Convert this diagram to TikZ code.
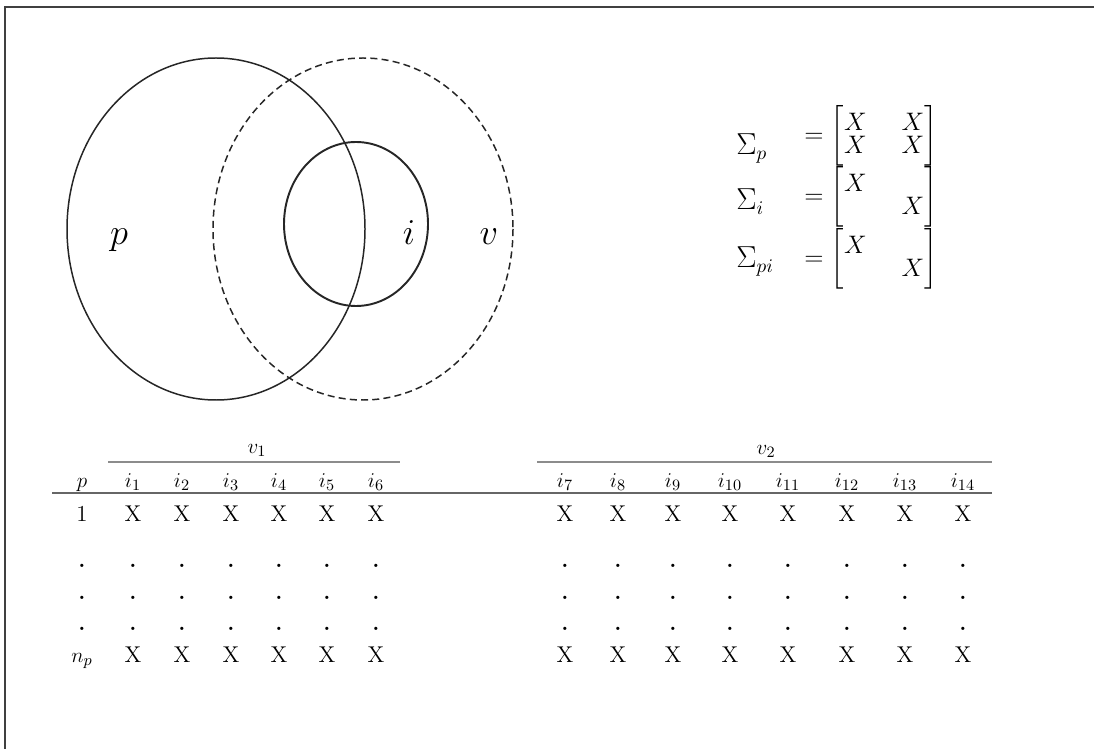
\documentclass[tikz,border=0pt]{standalone}
\usepackage{amsmath}
\usetikzlibrary{positioning}
\setlength{\arraycolsep}{10pt}
\tikzset{
  frameline/.style={line width=1.1pt, black!75},
  setline/.style  ={line width=0.85pt, black!85},
  setdash/.style  ={setline, dash pattern=on 4pt off 2.4pt},
  setinner/.style ={line width=1.1pt, black!85},
  setlabel/.style ={anchor=base, inner sep=0pt, font=\fontsize{22}{26}\selectfont},
  covsym/.style   ={anchor=base west, inner sep=0pt, font=\fontsize{16}{19}\selectfont},
  covmat/.style   ={anchor=west, inner sep=0pt, font=\fontsize{14}{16}\selectfont},
  cell/.style     ={anchor=base, inner sep=0pt, font=\fontsize{13}{15}\selectfont},
  grouprule/.style={line width=1.3pt, black!45},
  headrule/.style ={line width=1.6pt, black!60},
}

\begin{document}
\begin{tikzpicture}[x=0.02cm, y=-0.02cm]
  \useasboundingbox (0,0) rectangle (1094,749);
  \draw[frameline] (5,749) -- (5,7) -- (1094,7);

  % sets
  \draw[setline]  (216,229) ellipse [x radius=149, y radius=171];
  \draw[setdash]  (363,229) ellipse [x radius=150, y radius=171];
  \draw[setinner] (356,224) ellipse [x radius=72, y radius=82];
  \node[setlabel] (lp) at (119,245) {$p$};
  \node[setlabel] (li) at (409,245) {$i$};
  \node[setlabel] (lv) at (489,245) {$v$};

  % covariance structures
  \node[covsym] (sp)  at (736,155) {$\Sigma_p$};
  \node[covsym] (si)  at (736,210) {$\Sigma_i$};
  \node[covsym] (spi) at (736,268) {$\Sigma_{pi}$};
  \node[covmat] (mp)  at (804,136) {$=\begin{bmatrix} X & X\\[-3pt] X & X\end{bmatrix}$};
  \node[covmat] (mi)  at (804,197) {$=\begin{bmatrix} X & \\[-3pt] & X\end{bmatrix}$};
  \node[covmat] (mpi) at (804,259) {$=\begin{bmatrix} X & \\[-3pt] & X\end{bmatrix}$};

  % data table
  \node[cell] (v1) at (257,453) {$v_1$};
  \node[cell] (v2) at (766,454) {$v_2$};
  \coordinate (g1a) at (108,462); \coordinate (g1b) at (400,462);
  \coordinate (g2a) at (537,462); \coordinate (g2b) at (992,462);
  \coordinate (ha)  at (52,493);  \coordinate (hb)  at (992,493);
  \draw[grouprule] (g1a) -- (g1b);
  \draw[grouprule] (g2a) -- (g2b);
  \draw[headrule]  (ha) -- (hb);

  \node[cell] (hp) at (82,487) {$p$};
  \node[cell] (r0) at (82,521) {1};
  \node[cell] (n0) at (82,662) {$n_p$};
  \foreach \r/\y in {1/567,2/599,3/630}
    \node[cell] (d\r-0) at (82,\y) {\textbf{.}};
  \foreach \c/\x in {1/133,2/182,3/231,4/279,5/327,6/376,
                     7/565,8/618,9/673,10/730,11/788,12/847,13/905,14/963} {
    \node[cell] (h\c) at (\x,487) {$i_{\c}$};
    \node[cell] (r\c) at (\x,521) {X};
    \foreach \r/\y in {1/567,2/599,3/630}
      \node[cell] (d\r-\c) at (\x,\y) {\textbf{.}};
    \node[cell] (n\c) at (\x,662) {X};
  }
\end{tikzpicture}
\end{document}
